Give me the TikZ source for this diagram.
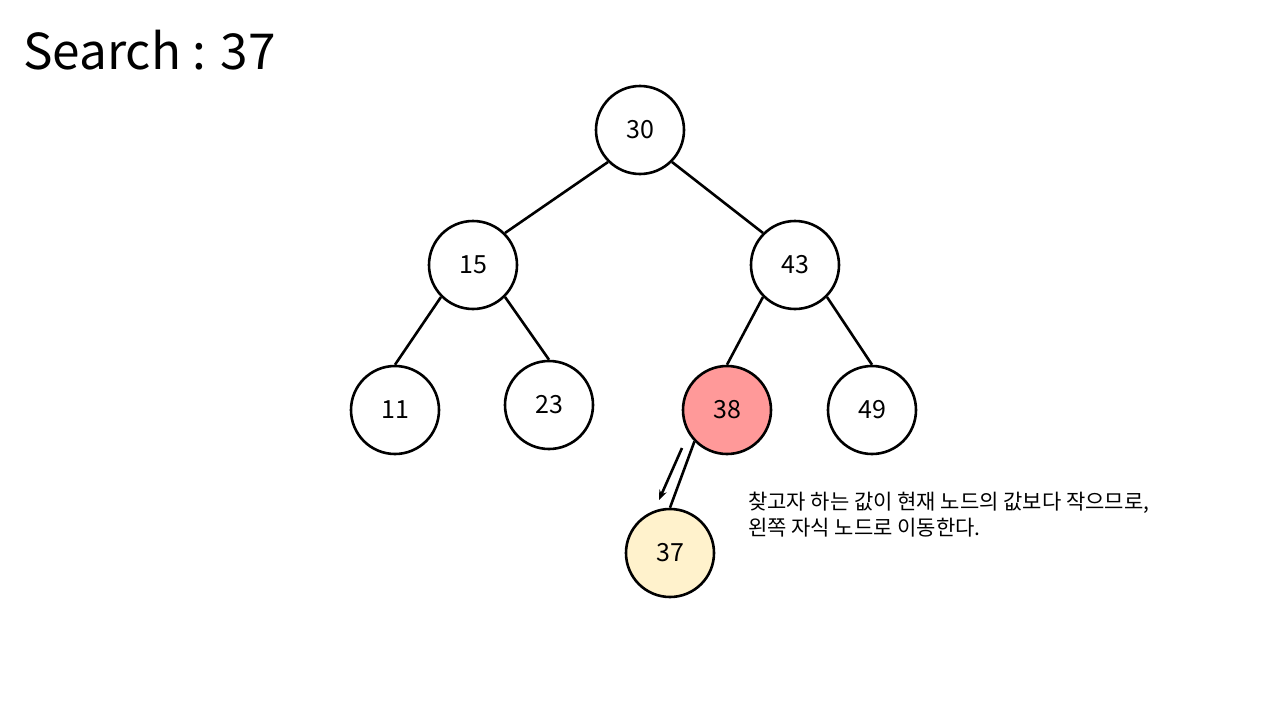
\documentclass[tikz,border=0pt]{standalone}
\usepackage{fontspec}
\setmainfont{Noto Sans CJK KR}
\usetikzlibrary{arrows.meta}
\definecolor{hitred}{HTML}{FF9999}
\definecolor{found}{HTML}{FFF2CC}
\begin{document}
\begin{tikzpicture}[x=1pt,y=-1pt,
  tnode/.style={circle,draw=black,line width=2.6pt,fill=white,minimum size=88pt,inner sep=0pt,font=\fontsize{25}{28}\selectfont},
  edge/.style={line width=2.6pt,black},
  note/.style={anchor=north west,align=left,inner sep=0pt,font=\fontsize{21}{26}\selectfont}]
\useasboundingbox[fill=white] (0,0) rectangle (1280,720);
\node[anchor=west,inner sep=0pt,font=\fontsize{49.5}{56}\selectfont] (title) at (23,50) {Search : 37};
\node[tnode] (n30) at (640,130) {30};
\node[tnode] (n15) at (473,265) {15};
\node[tnode] (n43) at (795,265) {43};
\node[tnode] (n11) at (395,410) {11};
\node[tnode] (n23) at (549,405) {23};
\node[tnode,fill=hitred] (n38) at (727,410) {38};
\node[tnode] (n49) at (872,410) {49};
\node[tnode,fill=found] (n37) at (670,553) {37};
\draw[edge] (n30.225) -- (n15.45);
\draw[edge] (n30.315) -- (n43.135);
\draw[edge] (n15.225) -- (n11.north);
\draw[edge] (n15.315) -- (n23.north);
\draw[edge] (n43.225) -- (n38.north);
\draw[edge] (n43.315) -- (n49.north);
\draw[edge] (n38.224) -- (n37.north);
\coordinate (a1) at (682,448);
\coordinate (a2) at (659,500);
\draw[edge,-{Stealth[length=10pt,width=8pt]}] (a1) -- (a2);
\node[note] (txt) at (748,492) {찾고자 하는 값이 현재 노드의 값보다 작으므로,\\왼쪽 자식 노드로 이동한다.};
\end{tikzpicture}
\end{document}
